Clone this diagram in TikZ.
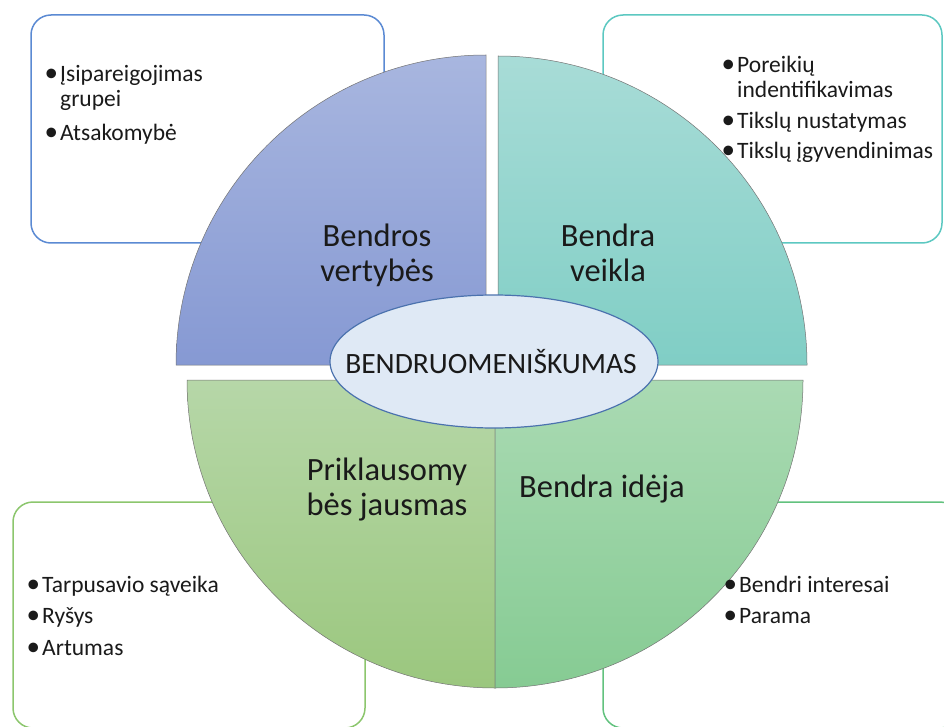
\documentclass[tikz,border=0pt]{standalone}
\usepackage{fontspec}
\setmainfont{Carlito}
\usetikzlibrary{shapes.geometric}
\definecolor{qblueT}{HTML}{A8B6DF}
\definecolor{qblueB}{HTML}{8699D3}
\definecolor{qtealT}{HTML}{A8DCD7}
\definecolor{qtealB}{HTML}{80CEC5}
\definecolor{qgrnlT}{HTML}{B6D7A8}
\definecolor{qgrnlB}{HTML}{9BC77E}
\definecolor{qgrnrT}{HTML}{AADAB3}
\definecolor{qgrnrB}{HTML}{86CB93}
\definecolor{bxblue}{HTML}{5B8AD3}
\definecolor{bxteal}{HTML}{5CC8C1}
\definecolor{bxgrnl}{HTML}{8CC66D}
\definecolor{bxgrnr}{HTML}{62C27E}
\definecolor{ellfill}{HTML}{DFE9F5}
\definecolor{elldraw}{HTML}{4B72AE}
\definecolor{txt}{HTML}{1A1A1A}
\newcommand\blt{\makebox[13pt][l]{\hspace{-2.5pt}\scalebox{1.15}{•}}}
\newcommand\ind{\hspace*{13pt}}
\tikzset{
  quad/.style={draw=black!55, line width=0.5pt},
  box/.style={rounded corners=20pt, line width=1.5pt, fill=white},
  lbl/.style={inner sep=0pt, anchor=base, text=txt, font=\fontsize{32.5}{35}\selectfont},
  lst/.style={inner sep=0pt, anchor=base west, text=txt, font=\fontsize{23.5}{25}\selectfont},
  core/.style={ellipse, draw=elldraw, line width=1.2pt, fill=ellfill, inner sep=0pt,
    minimum width=328pt, minimum height=133pt},
  corelbl/.style={inner sep=0pt, text=txt, font=\fontsize{29.5}{31}\selectfont}
}
\begin{document}
\begin{tikzpicture}[x=1pt,y=-1pt]
\useasboundingbox (0,0) rectangle (944,727);
% outer boxes
\draw[box, draw=bxblue] (31,15) rectangle (384,243);
\draw[box, draw=bxteal] (603,15) rectangle (942,243);
\draw[box, draw=bxgrnl] (13,502) rectangle (365,728);
\draw[box, draw=bxgrnr] (603,502) rectangle (960,728);
% quadrants
\draw[quad, top color=qblueT, bottom color=qblueB]
  (486,365) -- (176,365) arc[start angle=180, end angle=270, radius=310] -- cycle;
\draw[quad, top color=qtealT, bottom color=qtealB]
  (498,365) -- (807,365) arc[start angle=0, end angle=-90, radius=309] -- cycle;
\draw[quad, top color=qgrnlT, bottom color=qgrnlB]
  (495,380) -- (187,380) arc[start angle=180, end angle=90, radius=308] -- cycle;
\draw[quad, top color=qgrnrT, bottom color=qgrnrB]
  (495,380) -- (803,380) arc[start angle=0, end angle=90, radius=308] -- cycle;
% centre
\node[core] (core) at (494,361.5) {};
\node[corelbl] (corelabel) at (491,361.5) {BENDRUOMENIŠKUMAS};
% quadrant labels
\node[lbl] (q1) at (377,247) {\begin{tabular}[t]{@{}c@{}}Bendros\\vertybės\end{tabular}};
\node[lbl] (q2) at (608,247) {\begin{tabular}[t]{@{}c@{}}Bendra\\veikla\end{tabular}};
\node[lbl] (q3) at (387,480) {\begin{tabular}[t]{@{}c@{}}Priklausomy\\bės jausmas\end{tabular}};
\node[lbl] (q4) at (602,497) {Bendra idėja};
% lists
\node[lst] (l1) at (47,82) {\begin{tabular}[t]{@{}l@{}}\blt Įsipareigojimas\\ \ind grupei\\[9pt] \blt Atsakomybė\end{tabular}};
\node[lst] (l2) at (724,73) {\begin{tabular}[t]{@{}l@{}}\blt Poreikių\\ \ind indentifikavimas\\[6pt] \blt Tikslų nustatymas\\[5pt] \blt Tikslų įgyvendinimas\end{tabular}};
\node[lst] (l3) at (29,592) {\begin{tabular}[t]{@{}l@{}}\blt Tarpusavio sąveika\\[6pt] \blt Ryšys\\[7pt] \blt Artumas\end{tabular}};
\node[lst] (l4) at (726,592) {\begin{tabular}[t]{@{}l@{}}\blt Bendri interesai\\[6pt] \blt Parama\end{tabular}};
\end{tikzpicture}
\end{document}
